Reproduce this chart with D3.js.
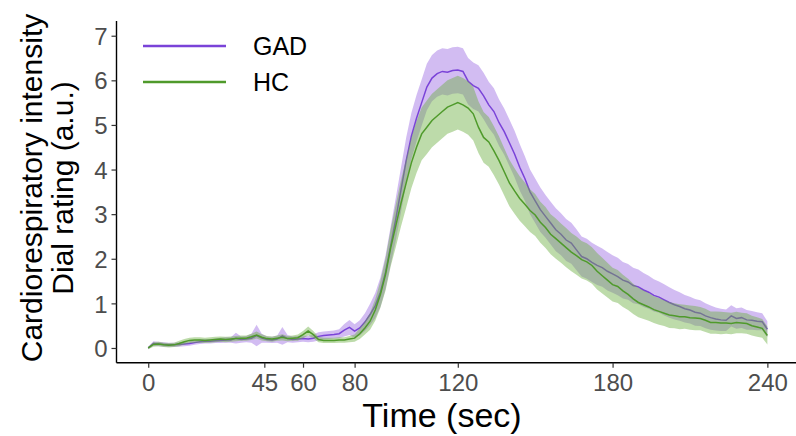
<!DOCTYPE html>
<html lang="en">
  <head>
    <meta charset="UTF-8" />
    <title>Cardiorespiratory intensity dial rating</title>
    <style>
      html, body { margin: 0; padding: 0; background: #fff; }
      svg { display: block; font-family: "Liberation Sans", Arial, sans-serif; }
    </style>
    <script src="https://cdn.jsdelivr.net/npm/d3@7/dist/d3.min.js"></script>
  </head>
  <body>
    <script>
      // time points (sec), every 2 s
      const time = d3.range(0, 241, 2);

      // GAD mean rating and half-width of its band
      const gadMean = [
        0.00, 0.10, 0.09, 0.08, 0.07, 0.07, 0.08, 0.09, 0.10, 0.12,
        0.14, 0.15, 0.15, 0.16, 0.17, 0.18, 0.18, 0.22, 0.19, 0.20,
        0.22, 0.28, 0.22, 0.19, 0.18, 0.20, 0.27, 0.21, 0.19, 0.20,
        0.21, 0.20, 0.22, 0.26, 0.28, 0.29, 0.30, 0.32, 0.40, 0.46,
        0.38, 0.45, 0.58, 0.75, 0.95, 1.25, 1.70, 2.30, 2.90, 3.55,
        4.20, 4.75, 5.15, 5.50, 5.85, 6.05, 6.15, 6.20, 6.18, 6.22,
        6.23, 6.20, 5.98, 5.88, 5.82, 5.65, 5.45, 5.30, 5.05, 4.85,
        4.60, 4.35, 4.05, 3.80, 3.50, 3.30, 3.10, 2.95, 2.80, 2.65,
        2.55, 2.42, 2.35, 2.20, 2.05, 2.00, 1.92, 1.85, 1.80, 1.72,
        1.66, 1.60, 1.52, 1.48, 1.40, 1.37, 1.30, 1.25, 1.18, 1.14,
        1.08, 1.02, 0.97, 0.93, 0.88, 0.85, 0.80, 0.78, 0.72, 0.68,
        0.65, 0.63, 0.62, 0.72, 0.66, 0.68, 0.63, 0.62, 0.60, 0.59,
        0.42
      ];
      const gadHalf = [
        0.03, 0.05, 0.05, 0.05, 0.05, 0.05, 0.05, 0.05, 0.05, 0.05,
        0.05, 0.05, 0.05, 0.05, 0.06, 0.06, 0.06, 0.12, 0.07, 0.07,
        0.10, 0.24, 0.10, 0.07, 0.07, 0.08, 0.20, 0.08, 0.07, 0.07,
        0.07, 0.07, 0.08, 0.09, 0.09, 0.09, 0.09, 0.10, 0.14, 0.17,
        0.15, 0.17, 0.20, 0.24, 0.28, 0.33, 0.38, 0.43, 0.48, 0.50,
        0.52, 0.52, 0.52, 0.52, 0.52, 0.52, 0.52, 0.52, 0.52, 0.52,
        0.52, 0.52, 0.52, 0.52, 0.52, 0.52, 0.52, 0.52, 0.52, 0.52,
        0.52, 0.52, 0.52, 0.50, 0.50, 0.50, 0.50, 0.48, 0.48, 0.48,
        0.47, 0.47, 0.46, 0.46, 0.45, 0.45, 0.44, 0.44, 0.43, 0.43,
        0.42, 0.42, 0.41, 0.40, 0.40, 0.39, 0.38, 0.37, 0.36, 0.35,
        0.35, 0.34, 0.33, 0.32, 0.31, 0.30, 0.30, 0.29, 0.28, 0.27,
        0.26, 0.25, 0.24, 0.24, 0.23, 0.23, 0.22, 0.21, 0.20, 0.19,
        0.18
      ];

      // HC mean rating and half-width of its band
      const hcMean = [
        0.00, 0.08, 0.09, 0.07, 0.06, 0.07, 0.10, 0.14, 0.17, 0.18,
        0.18, 0.17, 0.18, 0.19, 0.20, 0.19, 0.20, 0.21, 0.22, 0.22,
        0.25, 0.29, 0.24, 0.21, 0.20, 0.22, 0.24, 0.21, 0.22, 0.23,
        0.30, 0.38, 0.30, 0.19, 0.17, 0.17, 0.17, 0.18, 0.18, 0.20,
        0.22, 0.32, 0.45, 0.60, 0.85, 1.20, 1.65, 2.25, 2.75, 3.25,
        3.70, 4.15, 4.50, 4.80, 4.95, 5.10, 5.20, 5.30, 5.40, 5.45,
        5.50, 5.45, 5.38, 5.25, 4.95, 4.72, 4.62, 4.42, 4.20, 3.95,
        3.70, 3.52, 3.35, 3.22, 3.08, 2.98, 2.82, 2.70, 2.55, 2.45,
        2.35, 2.25, 2.15, 2.07, 1.98, 1.93, 1.85, 1.72, 1.62, 1.52,
        1.42, 1.38, 1.28, 1.20, 1.10, 1.02, 0.97, 0.92, 0.86, 0.82,
        0.78, 0.74, 0.72, 0.70, 0.70, 0.68, 0.67, 0.66, 0.62, 0.57,
        0.57, 0.56, 0.56, 0.55, 0.57, 0.56, 0.55, 0.50, 0.47, 0.44,
        0.28
      ];
      const hcHalf = [
        0.03, 0.05, 0.05, 0.05, 0.05, 0.05, 0.06, 0.06, 0.06, 0.06,
        0.06, 0.06, 0.06, 0.06, 0.06, 0.06, 0.06, 0.06, 0.06, 0.06,
        0.07, 0.08, 0.07, 0.06, 0.06, 0.06, 0.07, 0.06, 0.06, 0.07,
        0.08, 0.10, 0.08, 0.06, 0.06, 0.06, 0.06, 0.06, 0.06, 0.07,
        0.08, 0.12, 0.15, 0.19, 0.24, 0.30, 0.36, 0.42, 0.48, 0.52,
        0.55, 0.57, 0.58, 0.59, 0.60, 0.60, 0.60, 0.60, 0.60, 0.60,
        0.60, 0.60, 0.60, 0.60, 0.58, 0.57, 0.56, 0.55, 0.54, 0.53,
        0.52, 0.51, 0.50, 0.49, 0.48, 0.47, 0.46, 0.46, 0.45, 0.45,
        0.44, 0.44, 0.43, 0.43, 0.42, 0.42, 0.41, 0.41, 0.40, 0.39,
        0.38, 0.37, 0.36, 0.35, 0.34, 0.33, 0.32, 0.31, 0.30, 0.30,
        0.29, 0.29, 0.28, 0.28, 0.27, 0.27, 0.27, 0.26, 0.26, 0.25,
        0.25, 0.25, 0.24, 0.24, 0.24, 0.23, 0.23, 0.22, 0.22, 0.21,
        0.20
      ];

      const xTicks = [0, 45, 60, 80, 120, 180, 240];
      const yTicks = [0, 1, 2, 3, 4, 5, 6, 7];

      const groups = [
        { name: "GAD", mean: gadMean, half: gadHalf, line: "#7A43D8", fill: "#9B6BE3" },
        { name: "HC", mean: hcMean, half: hcHalf, line: "#4F9A2B", fill: "#6DB043" },
      ];

      const width = 796, height = 436;
      const m = { left: 116.5, right: 796, top: 21, bottom: 362.7 };

      const x = d3.scaleLinear().domain([-12.3, 251.1]).range([m.left, m.right]);
      const y = d3.scaleLinear().domain([-0.33, 7.33]).range([m.bottom, m.top]);

      const svg = d3
        .select(document.body)
        .append("svg")
        .attr("width", width)
        .attr("height", height);

      const area = (g) =>
        d3
          .area()
          .x((d, i) => x(time[i]))
          .y0((d, i) => y(g.mean[i] - g.half[i]))
          .y1((d, i) => y(g.mean[i] + g.half[i]));

      const line = (g) =>
        d3
          .line()
          .x((d, i) => x(time[i]))
          .y((d, i) => y(g.mean[i]));

      const plot = svg.append("g").attr("class", "series");
      groups.forEach((g) => {
        plot
          .append("path")
          .attr("d", area(g)(g.mean))
          .attr("fill", g.fill)
          .attr("fill-opacity", 0.45);
        plot
          .append("path")
          .attr("d", line(g)(g.mean))
          .attr("fill", "none")
          .attr("stroke", g.line)
          .attr("stroke-width", 1.5);
      });

      // axes
      const xAxis = svg
        .append("g")
        .attr("transform", `translate(0,${m.bottom})`)
        .call(d3.axisBottom(x).tickValues(xTicks).tickSize(5).tickPadding(6));
      const yAxis = svg
        .append("g")
        .attr("transform", `translate(${m.left},0)`)
        .call(d3.axisLeft(y).tickValues(yTicks).tickSize(5).tickPadding(4));

      [xAxis, yAxis].forEach((a) => {
        a.select(".domain").attr("stroke", "#000").attr("stroke-width", 1.4);
        a.selectAll(".tick line").attr("stroke", "#333").attr("stroke-width", 1.2);
        a.selectAll(".tick text")
          .attr("fill", "#4d4d4d")
          .attr("font-size", 24)
          .attr("font-family", "Liberation Sans, Arial, sans-serif");
      });
      xAxis.select(".domain").attr("d", `M${m.left},0H${m.right}`);
      yAxis.select(".domain").attr("d", `M0,${m.top}V${m.bottom}`);
      yAxis.selectAll(".tick text").attr("dy", "0.36em");

      // axis titles
      svg
        .append("text")
        .attr("x", 442)
        .attr("y", 427)
        .attr("text-anchor", "middle")
        .attr("font-size", 34)
        .attr("fill", "#000")
        .text("Time (sec)");

      const yTitle = svg
        .append("text")
        .attr("transform", "translate(0,188) rotate(-90)")
        .attr("text-anchor", "middle")
        .attr("font-size", 30)
        .attr("fill", "#000");
      yTitle.append("tspan").attr("x", 0).attr("y", 42).text("Cardiorespiratory intensity");
      yTitle.append("tspan").attr("x", 0).attr("y", 73).text("Dial rating (a.u.)");

      // legend
      const legend = svg.append("g").attr("class", "legend");
      groups.forEach((g, i) => {
        const ly = 46 + i * 36;
        legend
          .append("line")
          .attr("x1", 143)
          .attr("x2", 226)
          .attr("y1", ly)
          .attr("y2", ly)
          .attr("stroke", g.line)
          .attr("stroke-width", 2.5);
        legend
          .append("text")
          .attr("x", 253)
          .attr("y", ly)
          .attr("dy", "0.36em")
          .attr("font-size", 25)
          .attr("fill", "#000")
          .text(g.name);
      });
    </script>
  </body>
</html>
